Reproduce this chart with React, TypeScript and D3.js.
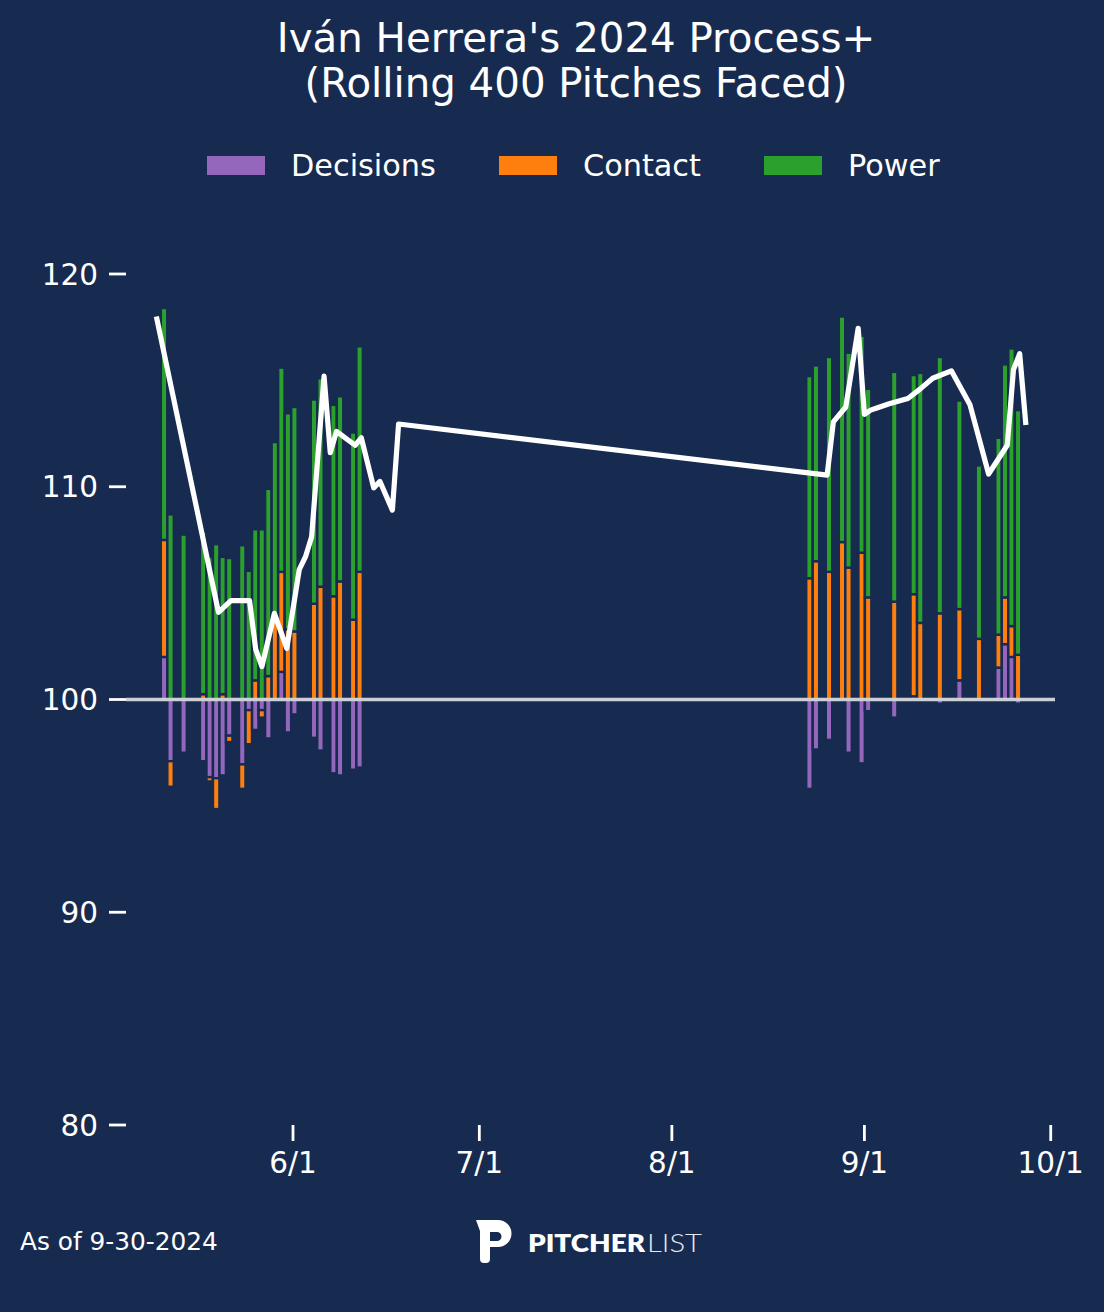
import React from "react";
import * as d3 from "d3";

// ---------- DATA ----------
const barDates = [
  "2024-05-11", "2024-05-12", "2024-05-14", "2024-05-17", "2024-05-18", "2024-05-19",
  "2024-05-20", "2024-05-21", "2024-05-23", "2024-05-24", "2024-05-25", "2024-05-26",
  "2024-05-27", "2024-05-28", "2024-05-29", "2024-05-30", "2024-05-31", "2024-06-03",
  "2024-06-04", "2024-06-06", "2024-06-07", "2024-06-09", "2024-06-10",
  "2024-08-18", "2024-08-19", "2024-08-21", "2024-08-23", "2024-08-24", "2024-08-26",
  "2024-08-27", "2024-08-31", "2024-09-03", "2024-09-04", "2024-09-07", "2024-09-10",
  "2024-09-13", "2024-09-16", "2024-09-17", "2024-09-18", "2024-09-19",
];
const decisions = [
  2.0, -2.9, -2.5, -2.9, -3.65, -3.7, -3.57, -1.7, -3.05, -0.5, -1.43, -0.5,
  -1.83, 0, 1.3, -1.55, -0.7, -1.8, -2.4, -3.47, -3.57, -3.3, -3.2,
  -4.2, -2.35, -1.9, 0, -2.5, -3.0, -0.55, -0.85, 0.15, 0, -0.2, 0.9,
  0, 1.5, 2.6, 2.0, -0.2,
];
const contact = [
  5.5, -1.2, 0, 0.25, -0.2, -1.45, 0.25, -0.3, -1.15, -1.6, 0.9, -0.35,
  1.1, 3.95, 4.7, 3.3, 3.2, 4.5, 5.3, 4.85, 5.55, 3.75, 6.0,
  5.7, 6.5, 6.0, 7.4, 6.2, 6.9, 4.8, 4.6, 4.8, 3.6, 4.05, 3.35,
  2.85, 1.55, 2.2, 1.45, 2.1,
];
const power = [
  10.9, 8.7, 7.75, 7.65, 6.7, 7.3, 6.45, 6.65, 7.25, 6.05, 7.1, 8.0,
  8.8, 8.15, 9.6, 10.15, 10.55, 9.6, 9.8, 9.0, 8.7, 8.8, 10.6,
  9.5, 9.2, 10.1, 10.6, 10.1, 10.2, 9.8, 10.8, 10.3, 11.75, 12.05, 9.8,
  8.15, 9.25, 10.95, 13.05, 11.5,
];

const lineDates = [
  "2024-05-10", "2024-05-20", "2024-05-22", "2024-05-25", "2024-05-26", "2024-05-27",
  "2024-05-29", "2024-05-31", "2024-06-02", "2024-06-03", "2024-06-04", "2024-06-06",
  "2024-06-07", "2024-06-08", "2024-06-11", "2024-06-12", "2024-06-14", "2024-06-15",
  "2024-06-17", "2024-06-18",
  "2024-08-26", "2024-08-27", "2024-08-29", "2024-08-31", "2024-09-01", "2024-09-02",
  "2024-09-03", "2024-09-05", "2024-09-08", "2024-09-10", "2024-09-12", "2024-09-15",
  "2024-09-18", "2024-09-21", "2024-09-24", "2024-09-25", "2024-09-26", "2024-09-27",
];
const processPlus = [
  118.0, 104.1, 104.65, 104.65, 102.35, 101.55, 104.05, 102.4, 106.1, 106.7, 107.65, 115.2,
  111.6, 112.6, 111.95, 112.3, 109.95, 110.25, 108.9, 112.95,
  110.55, 113.05, 113.75, 117.45, 113.4, 113.6, 113.7, 113.9, 114.15, 114.6, 115.1, 115.45,
  113.85, 110.6, 111.95, 115.5, 116.25, 112.9,
];

const xTickDates = ["2024-06-01", "2024-07-01", "2024-08-01", "2024-09-01", "2024-10-01"];
const yTicks = [80, 90, 100, 110, 120];
const seriesNames = ["Decisions", "Contact", "Power"];
const seriesColors = ["#9467bd", "#ff7f0e", "#2ca02c"];

// ---------- STYLE / LAYOUT ----------
const W = 1104;
const H = 1312;
const BG = "#172b50";
const FONT = "DejaVu Sans, sans-serif";
const PLOT_LEFT = 126;
const PLOT_RIGHT = 1055;
const PLOT_BOTTOM = 1125;
const PLOT_TOP = 274;

const parse = d3.timeParse("%Y-%m-%d");

export default function App() {
  const y = d3.scaleLinear().domain([80, 120]).range([PLOT_BOTTOM, PLOT_TOP]);
  // axis used by the line and the visible date ticks
  const xLine = d3
    .scaleTime()
    .domain([new Date(2024, 4, 5, 2, 40), new Date(2024, 9, 1, 16, 30)])
    .range([PLOT_LEFT, PLOT_RIGHT]);
  // independent (hidden) axis used by the bars
  const xBar = d3
    .scaleTime()
    .domain([new Date(2024, 4, 5, 4, 0), new Date(2024, 8, 24, 16, 0)])
    .range([PLOT_LEFT, PLOT_RIGHT]);

  const series = [decisions, contact, power];
  const rects: { x: number; y0: number; y1: number; color: string; key: string }[] = [];
  barDates.forEach((ds, i) => {
    const cx = xBar(parse(ds) as Date);
    let pos = 100;
    let neg = 100;
    series.forEach((vals, s) => {
      const v = vals[i];
      if (!v) return;
      let a: number, b: number;
      if (v > 0) {
        a = pos;
        b = pos + v;
        pos = b;
      } else {
        a = neg;
        b = neg + v;
        neg = b;
      }
      rects.push({ x: cx, y0: y(Math.max(a, b)), y1: y(Math.min(a, b)), color: seriesColors[s], key: `${i}-${s}` });
    });
  });

  const lineGen = d3
    .line<number>()
    .x((_, i) => xLine(parse(lineDates[i]) as Date))
    .y((v) => y(v));
  const linePath = lineGen(processPlus) || "";

  const fmt = d3.timeFormat("%-m/%-d");
  const legendX = [207, 499, 764];
  const BAR_W = 6.4;

  return (
    <svg
      width={W}
      height={H}
      viewBox={`0 0 ${W} ${H}`}
      style={{ position: "absolute", left: 0, top: 0, display: "block" }}
      fontFamily={FONT}
    >
      <rect x={0} y={0} width={W} height={H} fill={BG} />

      {/* Title */}
      <text x={576} y={52} textAnchor="middle" fill="#ffffff" fontSize={40.3}>
        Iván Herrera's 2024 Process+
      </text>
      <text x={576} y={97} textAnchor="middle" fill="#ffffff" fontSize={40.3}>
        (Rolling 400 Pitches Faced)
      </text>

      {/* Legend */}
      {seriesNames.map((name, i) => (
        <g key={name}>
          <rect x={legendX[i]} y={156} width={58} height={19} fill={seriesColors[i]} />
          <text x={legendX[i] + 84} y={176} fill="#ffffff" fontSize={30.3}>
            {name}
          </text>
        </g>
      ))}

      {/* Bars */}
      {rects.map((r) => (
        <rect
          key={r.key}
          x={r.x - BAR_W / 2}
          y={r.y0}
          width={BAR_W}
          height={Math.max(0, r.y1 - r.y0)}
          fill={r.color}
          stroke={BG}
          strokeWidth={2.4}
        />
      ))}

      {/* 100 baseline */}
      <line x1={PLOT_LEFT} x2={PLOT_RIGHT} y1={y(100)} y2={y(100)} stroke="#ccd0d6" strokeWidth={3.4} />

      {/* Process+ line */}
      <path d={linePath} fill="none" stroke="#ffffff" strokeWidth={5.2} strokeLinejoin="round" strokeLinecap="butt" />

      {/* Y axis ticks */}
      {yTicks.map((t) => (
        <g key={t}>
          <line x1={PLOT_LEFT - 17} x2={PLOT_LEFT} y1={y(t)} y2={y(t)} stroke="#ffffff" strokeWidth={2.8} />
          <text x={PLOT_LEFT - 28} y={y(t)} dy="0.36em" textAnchor="end" fill="#ffffff" fontSize={29.5}>
            {t}
          </text>
        </g>
      ))}

      {/* X axis ticks */}
      {xTickDates.map((ds) => {
        const d = parse(ds) as Date;
        const x = xLine(d);
        return (
          <g key={ds}>
            <line x1={x} x2={x} y1={PLOT_BOTTOM} y2={PLOT_BOTTOM + 16} stroke="#ffffff" strokeWidth={2.8} />
            <text x={x} y={PLOT_BOTTOM + 48} textAnchor="middle" fill="#ffffff" fontSize={29.5}>
              {fmt(d)}
            </text>
          </g>
        );
      })}

      {/* Footer */}
      <text x={20} y={1250} fill="#ffffff" fontSize={24.8}>
        As of 9-30-2024
      </text>

      {/* Pitcher List logo */}
      <g fill="#ffffff">
        <path
          fillRule="evenodd"
          d="M476,1220 L498,1220 A13.5,13.5 0 0 1 498,1247 L490,1247 L490,1259 Q490,1263 486,1263 L484,1263 Q480,1263 480,1259 L480,1231 Z M490,1232 L497,1232 A4.5,4.5 0 0 1 497,1241 L490,1241 Z"
        />
        <text x={528} y={1252} fontFamily="Lato, 'Open Sans', sans-serif" fontWeight={800} fontSize={25} textLength={117} lengthAdjust="spacingAndGlyphs">
          PITCHER
        </text>
        <text x={647} y={1252} fontFamily="Lato, 'Open Sans', sans-serif" fontWeight={300} fontSize={25} fill="#e6e9ef" textLength={55} lengthAdjust="spacingAndGlyphs">
          LIST
        </text>
      </g>
    </svg>
  );
}
